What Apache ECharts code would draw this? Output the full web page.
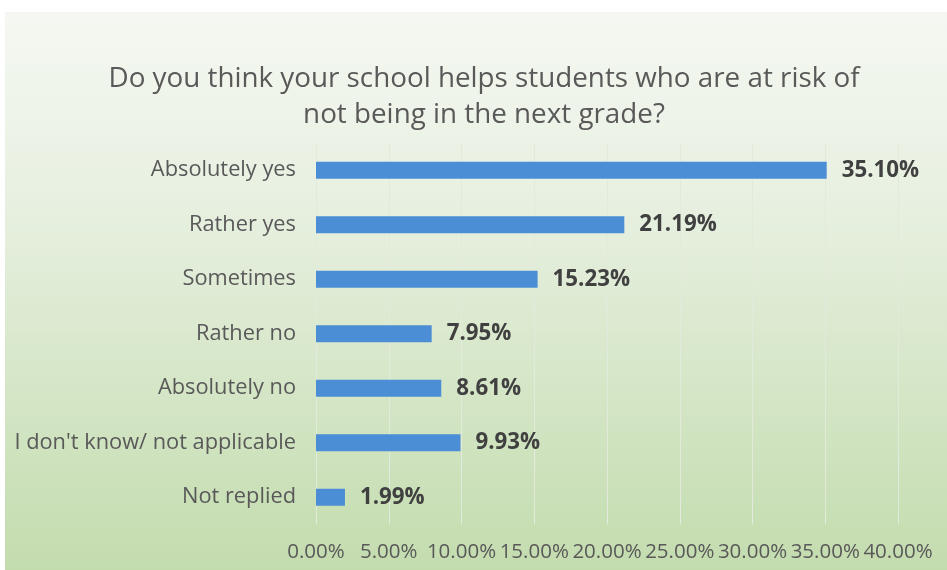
<!DOCTYPE html>
<html>
<head>
<meta charset="utf-8">
<script src="https://cdn.jsdelivr.net/npm/echarts@6/dist/echarts.min.js"></script>
<style>html,body{margin:0;padding:0;background:#fff;}#c{width:947px;height:570px;}</style>
</head>
<body>
<div id="c"></div>
<script>
var categories = ["Absolutely yes", "Rather yes", "Sometimes", "Rather no", "Absolutely no", "I don't know/ not applicable", "Not replied"];
var values = [0.3510, 0.2119, 0.1523, 0.0795, 0.0861, 0.0993, 0.0199];
var titleText = "Do you think your school helps students who are at risk of\nnot being in the next grade?";

var FONT = "Open Sans";
var chart = echarts.init(document.getElementById('c'), null, {renderer: 'canvas'});
chart.setOption({
  animation: false,
  backgroundColor: '#ffffff',
  graphic: [{
    type: 'rect', left: 5, top: 12, z: -10, silent: true,
    shape: {width: 942, height: 558},
    style: {fill: new echarts.graphic.LinearGradient(0, 0, 0, 1, [
      {offset: 0, color: '#f5f8f2'},
      {offset: 0.35, color: '#e7f0e0'},
      {offset: 1, color: '#c3dcae'}
    ])}
  }],
  title: {
    text: titleText,
    left: 479, top: 56, textAlign: 'center',
    textStyle: {fontFamily: FONT, fontSize: 27.8, fontWeight: 'normal', color: '#595959', lineHeight: 36}
  },
  grid: {left: 316, right: 49, top: 143, bottom: 45.5, containLabel: false},
  xAxis: {
    type: 'value', min: 0, max: 0.4, interval: 0.05,
    axisLine: {show: false}, axisTick: {show: false},
    splitLine: {lineStyle: {color: '#e2eadb', width: 1}},
    axisLabel: {
      fontFamily: FONT, fontSize: 20.5, color: '#595959', margin: 17,
      formatter: function (v) { return (v * 100).toFixed(2) + '%'; }
    }
  },
  yAxis: {
    type: 'category', data: categories, inverse: true,
    axisLine: {show: false}, axisTick: {show: false},
    axisLabel: {fontFamily: FONT, fontSize: 21.8, color: '#595959', margin: 20}
  },
  series: [{
    type: 'bar', data: values, barWidth: 17,
    itemStyle: {color: '#4b8ed6'},
    label: {
      show: true, position: 'right', distance: 15,
      fontFamily: FONT, fontSize: 22.3, fontWeight: 'bold', color: '#404040',
      formatter: function (p) { return (p.value * 100).toFixed(2) + '%'; }
    }
  }]
});
</script>
</body>
</html>
